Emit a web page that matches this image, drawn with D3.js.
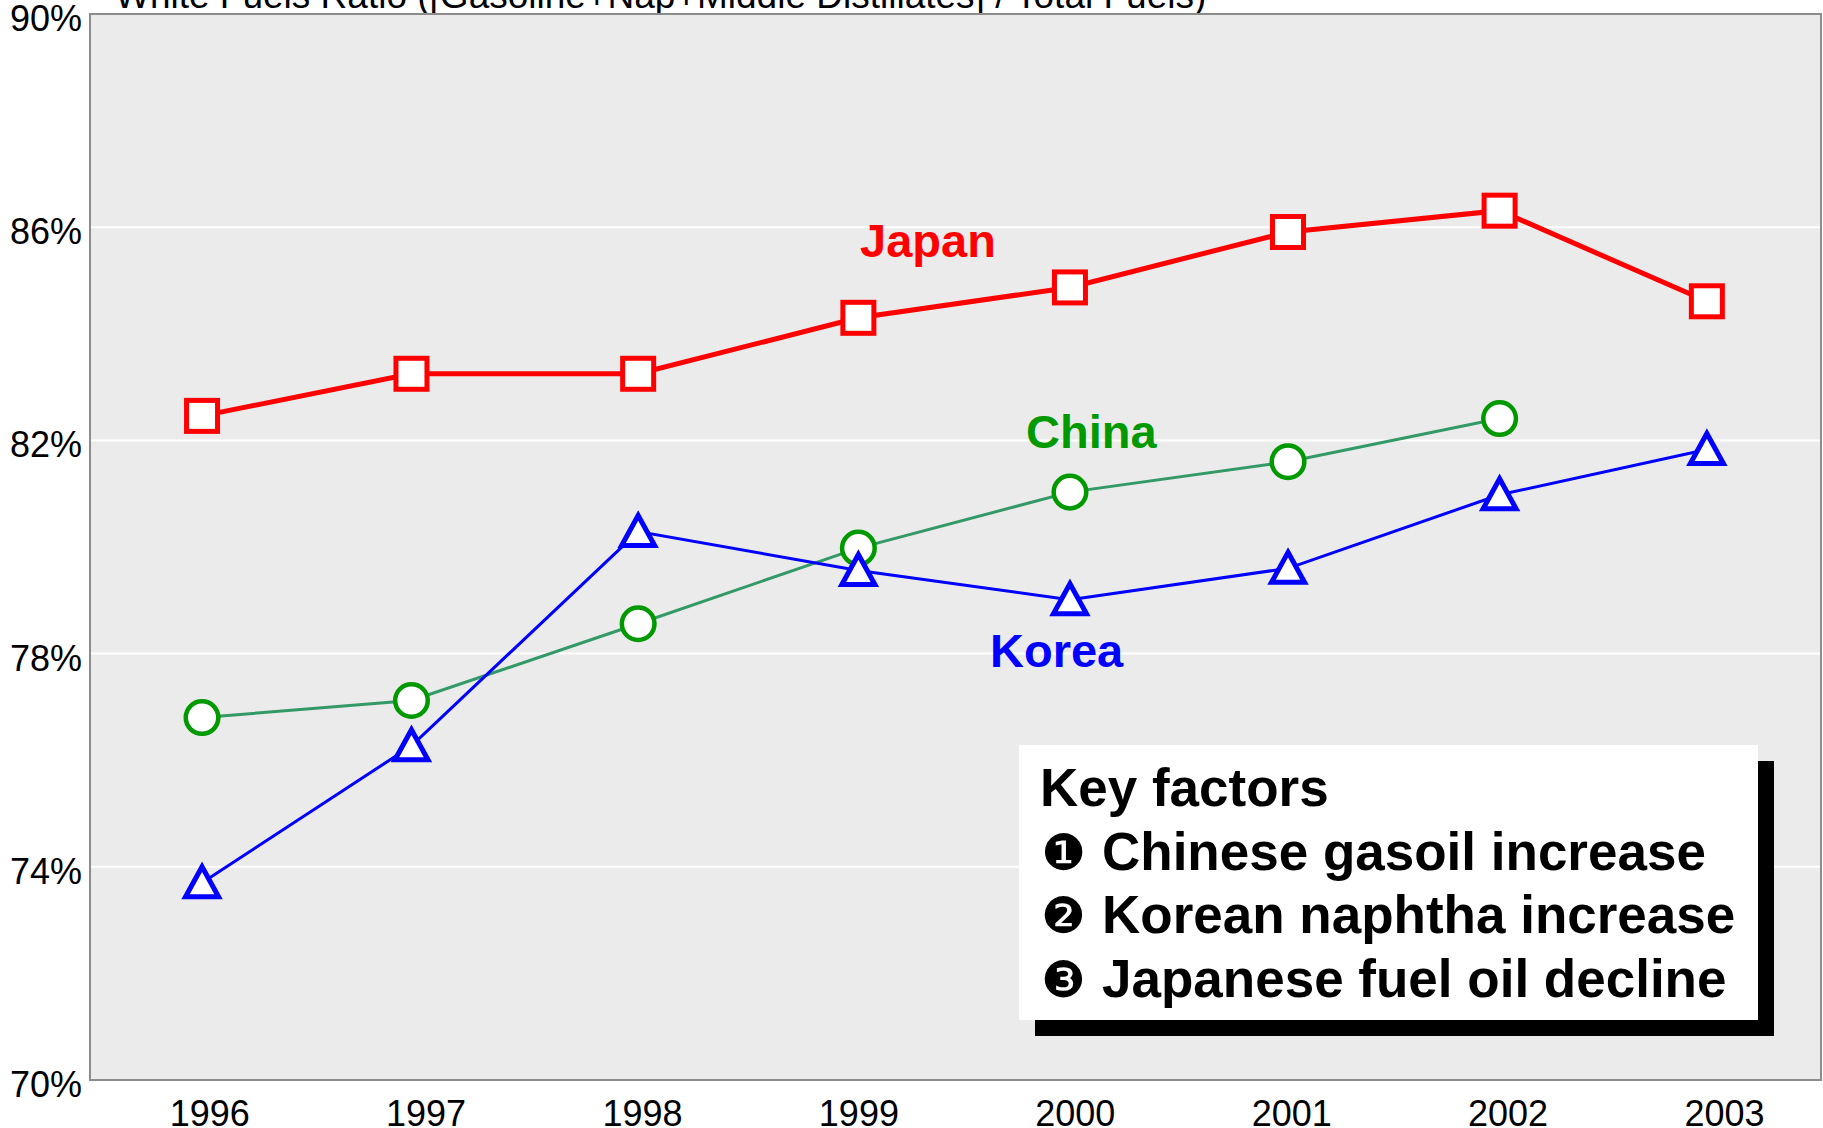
<!DOCTYPE html>
<html>
<head>
<meta charset="utf-8">
<script src="https://cdn.jsdelivr.net/npm/d3@7"></script>
<style>
  body { margin: 0; background: #fff; }
  svg { display: block; font-family: Arial, "Liberation Sans", Helvetica, sans-serif; }
</style>
</head>
<body>
<div id="chart"></div>
<script>
// values
const years = [1996, 1997, 1998, 1999, 2000, 2001, 2002, 2003];
// the points do not sit exactly on the year ticks in the original
const yearPos = [1995.99, 1996.96, 1998.01, 1999.03, 2000.01, 2001.02, 2002.0, 2002.96];
const japan = [82.46, 83.25, 83.25, 84.30, 84.87, 85.91, 86.31, 84.61];
const china = [76.80, 77.12, 78.56, 79.98, 81.03, 81.60, 82.41, null];
const korea = [73.70, 76.27, 80.29, 79.56, 79.01, 79.60, 80.98, 81.83];
const yTicks = [70, 74, 78, 82, 86, 90];
const keyFactors = [
    { bullet: "", text: "Key factors" },
    { bullet: "\u2776", text: "Chinese gasoil increase" },
    { bullet: "\u2777", text: "Korean naphtha increase" },
    { bullet: "\u2778", text: "Japanese fuel oil decline" }
];

const W = 1823, H = 1128;
const plot = { left: 90, top: 14, right: 1821, bottom: 1080 };

const svg = d3.select("#chart").append("svg")
    .attr("width", W)
    .attr("height", H);

const x = d3.scaleLinear()
    .domain([1996, 2003])
    .range([204.2, 1715.5]);

const y = d3.scaleLinear()
    .domain([70, 90])
    .range([plot.bottom, plot.top]);

// title, mostly cut off at the top of the page
svg.append("text")
    .attr("x", 115)
    .attr("y", 8)
    .style("font-size", "37px")
    .text("White Fuels Ratio ([Gasoline+Nap+Middle Distillates] / Total Fuels)");

// panel
svg.append("rect")
    .attr("x", plot.left)
    .attr("y", plot.top)
    .attr("width", plot.right - plot.left)
    .attr("height", plot.bottom - plot.top)
    .attr("fill", "#ebebeb");

svg.append("g")
    .selectAll("line")
    .data(yTicks.filter(d => d > 70 && d < 90))
    .enter()
    .append("line")
    .attr("x1", plot.left)
    .attr("x2", plot.right)
    .attr("y1", d => y(d))
    .attr("y2", d => y(d))
    .attr("stroke", "#fff")
    .attr("stroke-width", 2);

svg.append("rect")
    .attr("x", plot.left)
    .attr("y", plot.top)
    .attr("width", plot.right - plot.left)
    .attr("height", plot.bottom - plot.top)
    .attr("fill", "none")
    .attr("stroke", "#8c8c8c")
    .attr("stroke-width", 2);

// axes
const yAxis = d3.axisLeft(y)
    .tickValues(yTicks)
    .tickSize(0)
    .tickPadding(8)
    .tickFormat(d => d + "%");

svg.append("g")
    .attr("transform", `translate(${plot.left},0)`)
    .call(yAxis)
    .call(g => g.select(".domain").remove())
    .call(g => g.selectAll("text")
        .attr("dy", "0.32em")
        .attr("y", 5)
        .attr("fill", "#000")
        .style("font-size", "36px")
        .style("font-family", "Arial, 'Liberation Sans', sans-serif"));

const xAxis = d3.axisBottom(x)
    .tickValues(years)
    .tickFormat(d3.format("d"))
    .tickSize(0)
    .tickPadding(0);

svg.append("g")
    .attr("transform", `translate(0,${plot.bottom})`)
    .call(xAxis)
    .call(g => g.select(".domain").remove())
    .call(g => g.selectAll("text")
        .attr("x", (d, i) => 5 + i * 0.5)
        .attr("y", 46)
        .attr("dy", 0)
        .attr("fill", "#000")
        .style("font-size", "36px")
        .style("font-family", "Arial, 'Liberation Sans', sans-serif"));

// series
const line = d3.line()
    .defined(d => d != null)
    .x((d, i) => x(yearPos[i]))
    .y(d => y(d));

const series = [
    { name: "China", values: china, line: "#339966", lineWidth: 3, marker: "circle", color: "#009900", markerWidth: 4.5 },
    { name: "Korea", values: korea, line: "#0000ff", lineWidth: 3, marker: "triangle", color: "#0000ff", markerWidth: 5 },
    { name: "Japan", values: japan, line: "#ff0000", lineWidth: 5, marker: "square", color: "#ff0000", markerWidth: 5 }
];

series.forEach(s => {
    svg.append("path")
        .datum(s.values)
        .attr("d", line)
        .attr("fill", "none")
        .attr("stroke", s.line)
        .attr("stroke-width", s.lineWidth);

    const pts = s.values
        .map((v, i) => ({ v, pos: yearPos[i] }))
        .filter(d => d.v != null);

    const g = svg.append("g");
    if (s.marker === "circle") {
        g.selectAll("circle").data(pts).enter().append("circle")
            .attr("cx", d => x(d.pos))
            .attr("cy", d => y(d.v))
            .attr("r", 16.3);
    } else if (s.marker === "square") {
        g.selectAll("rect").data(pts).enter().append("rect")
            .attr("x", d => x(d.pos) - 15.5)
            .attr("y", d => y(d.v) - 15.5)
            .attr("width", 31)
            .attr("height", 31);
    } else {
        g.selectAll("path").data(pts).enter().append("path")
            .attr("d", d => {
                const cx = x(d.pos), cy = y(d.v);
                return `M${cx},${cy - 16}L${cx + 16.5},${cy + 14}L${cx - 16.5},${cy + 14}Z`;
            })
            .attr("stroke-linejoin", "miter");
    }
    g.selectAll("*")
        .attr("fill", "#fff")
        .attr("stroke", s.color)
        .attr("stroke-width", s.markerWidth);
});

// series labels
const labels = [
    { text: "Japan", color: "#ff0000", x: 860, y: 257 },
    { text: "China", color: "#009900", x: 1026, y: 448 },
    { text: "Korea", color: "#0000ff", x: 990, y: 667 }
];

svg.append("g")
    .selectAll("text")
    .data(labels)
    .enter()
    .append("text")
    .attr("x", d => d.x)
    .attr("y", d => d.y)
    .attr("fill", d => d.color)
    .style("font-size", "47px")
    .style("font-weight", "bold")
    .text(d => d.text);

// key factors box with shadow
const box = { x: 1019, y: 745, w: 739, h: 275 };

svg.append("rect")
    .attr("x", box.x + 16)
    .attr("y", box.y + 16)
    .attr("width", box.w)
    .attr("height", box.h)
    .attr("fill", "#000");

svg.append("rect")
    .attr("x", box.x)
    .attr("y", box.y)
    .attr("width", box.w)
    .attr("height", box.h)
    .attr("fill", "#fff");

const key = svg.append("g")
    .selectAll("g")
    .data(keyFactors)
    .enter()
    .append("g")
    .attr("transform", (d, i) => `translate(0,${806 + i * 63.5})`);

key.append("text")
    .attr("x", 1041)
    .style("font-size", "50px")
    .style("font-family", "'DejaVu Sans', sans-serif")
    .text(d => d.bullet);

key.append("text")
    .attr("x", (d, i) => i === 0 ? 1040 : 1102)
    .style("font-size", "53px")
    .style("font-weight", "bold")
    .text(d => d.text);
</script>
</body>
</html>
